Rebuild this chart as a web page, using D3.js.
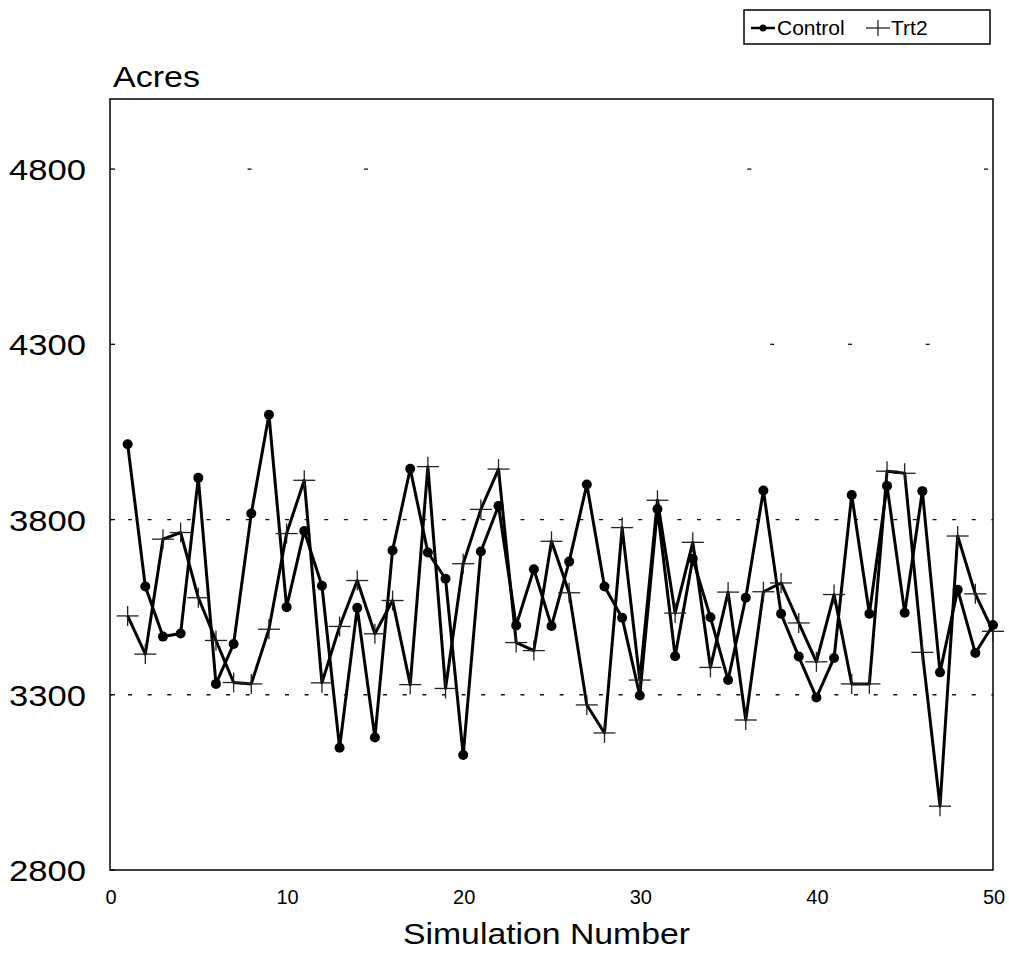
<!DOCTYPE html>
<html>
<head>
<meta charset="utf-8">
<script src="https://cdn.jsdelivr.net/npm/d3@7"></script>
<style>
  html, body { margin: 0; padding: 0; background: #fff; }
  svg { display: block; }
  text { font-family: "Liberation Sans", Arial, Helvetica, sans-serif; fill: #000; }
</style>
</head>
<body>
<svg id="chart" width="1009" height="959"></svg>
<script>
// ---- data ----
const simulations = d3.range(1, 51);
const control = [4015, 3609, 3466, 3475, 3919, 3331, 3445, 3817, 4099, 3550,
                 3767, 3611, 3149, 3548, 3178, 3712, 3945, 3706, 3631, 3128,
                 3709, 3839, 3498, 3658, 3496, 3680, 3900, 3609, 3520, 3298,
                 3830, 3410, 3688, 3521, 3342, 3577, 3883, 3531, 3409, 3292,
                 3405, 3870, 3531, 3896, 3534, 3881, 3364, 3600, 3419, 3499];
const trt2 = [3525, 3416, 3744, 3763, 3577, 3455, 3335, 3331, 3487, 3760,
              3912, 3334, 3495, 3626, 3474, 3569, 3329, 3951, 3318, 3674,
              3829, 3944, 3449, 3426, 3738, 3591, 3271, 3191, 3777, 3342,
              3855, 3533, 3735, 3378, 3593, 3228, 3594, 3619, 3505, 3394,
              3586, 3331, 3331, 3938, 3932, 3421, 2982, 3753, 3588, 3481];
const yTicks = [2800, 3300, 3800, 4300, 4800];
const xTicks = [0, 10, 20, 30, 40, 50];
const gridDense = [3300, 3800];
// faint scan remnants of upper gridlines: level and positions (simulation units)
const gridSparseLevels = [4300, 4800];
const gridSparseAt = [[37.5, 41.9, 46.3], [7.9, 14.5, 36.2, 49.6]];
const seriesNames = ["Control", "Trt2"];

// ---- layout ----
const svg = d3.select("#chart");
const pLeft = 110, pRight = 993, pTop = 99, pBottom = 870;
const x = d3.scaleLinear().domain([0, 50]).range([pLeft, pRight]);
const y = d3.scaleLinear().domain([2800, 5000]).range([pBottom, pTop]);

// dashed gridlines (scan-like)
const period = x(10 / 9) - x(0);
svg.append("g").selectAll("line").data(gridDense).join("line")
  .attr("x1", pLeft).attr("x2", pRight)
  .attr("y1", d => y(d)).attr("y2", d => y(d))
  .attr("stroke", "#111").attr("stroke-width", 1.3)
  .attr("stroke-dasharray", `4,${period - 4}`)
  .attr("stroke-dashoffset", -18);
gridSparseLevels.forEach((lvl, k) => {
  svg.append("g").selectAll("line").data(gridSparseAt[k]).join("line")
    .attr("x1", d => x(d) - 2).attr("x2", d => x(d) + 2)
    .attr("y1", y(lvl)).attr("y2", y(lvl))
    .attr("stroke", "#111").attr("stroke-width", 1.3);
});

// frame
svg.append("rect")
  .attr("x", pLeft).attr("y", pTop)
  .attr("width", pRight - pLeft).attr("height", pBottom - pTop)
  .attr("fill", "none").attr("stroke", "#000").attr("stroke-width", 1.5);

// y axis ticks (inner) + labels
const yAxis = svg.append("g");
yAxis.selectAll("line").data(yTicks).join("line")
  .attr("x1", pLeft).attr("x2", pLeft + 5)
  .attr("y1", d => y(d)).attr("y2", d => y(d))
  .attr("stroke", "#000").attr("stroke-width", 1.3);
yAxis.selectAll("text").data(yTicks).join("text")
  .attr("x", 86).attr("y", d => y(d) + 11)
  .attr("text-anchor", "end")
  .attr("font-size", 30)
  .attr("textLength", 77).attr("lengthAdjust", "spacingAndGlyphs")
  .text(d => d);

// x axis labels
svg.append("g").selectAll("text").data(xTicks).join("text")
  .attr("x", d => x(d) + 1).attr("y", 904)
  .attr("text-anchor", "middle")
  .attr("font-size", 20)
  .text(d => d);

// titles
svg.append("text").attr("x", 113).attr("y", 87)
  .attr("font-size", 30)
  .attr("textLength", 87).attr("lengthAdjust", "spacingAndGlyphs")
  .text("Acres");
svg.append("text").attr("x", 403).attr("y", 944)
  .attr("font-size", 30)
  .attr("textLength", 287).attr("lengthAdjust", "spacingAndGlyphs")
  .text("Simulation Number");

// lines
const line = d3.line().x((d, i) => x(simulations[i])).y(d => y(d));
svg.append("path").datum(trt2).attr("d", line)
  .attr("fill", "none").attr("stroke", "#000").attr("stroke-width", 3)
  .attr("stroke-linejoin", "round");
svg.append("path").datum(control).attr("d", line)
  .attr("fill", "none").attr("stroke", "#000").attr("stroke-width", 3)
  .attr("stroke-linejoin", "round");

// Trt2 cross markers
const crosses = svg.append("g").selectAll("g").data(trt2).join("g")
  .attr("transform", (d, i) => `translate(${x(simulations[i])},${y(d)})`);
crosses.append("line").attr("x1", -11).attr("x2", 11).attr("y1", 0).attr("y2", 0)
  .attr("stroke", "#222").attr("stroke-width", 1.3);
crosses.append("line").attr("x1", 0).attr("x2", 0).attr("y1", -10).attr("y2", 10)
  .attr("stroke", "#222").attr("stroke-width", 1.3);

// Control dot markers
svg.append("g").selectAll("circle").data(control).join("circle")
  .attr("cx", (d, i) => x(simulations[i])).attr("cy", d => y(d))
  .attr("r", 5).attr("fill", "#000");

// legend
const lg = svg.append("g");
lg.append("rect").attr("x", 744).attr("y", 10).attr("width", 246).attr("height", 34)
  .attr("fill", "#fff").attr("stroke", "#000").attr("stroke-width", 1.5);
lg.append("line").attr("x1", 751).attr("x2", 775).attr("y1", 28).attr("y2", 28)
  .attr("stroke", "#000").attr("stroke-width", 2.5);
lg.append("circle").attr("cx", 763).attr("cy", 28).attr("r", 3.5).attr("fill", "#000");
lg.append("text").attr("x", 777).attr("y", 35).attr("font-size", 21).text(seriesNames[0]);
lg.append("line").attr("x1", 866).attr("x2", 890).attr("y1", 28).attr("y2", 28)
  .attr("stroke", "#222").attr("stroke-width", 1.3);
lg.append("line").attr("x1", 878).attr("x2", 878).attr("y1", 20).attr("y2", 36)
  .attr("stroke", "#222").attr("stroke-width", 1.3);
lg.append("text").attr("x", 891).attr("y", 35).attr("font-size", 21).text(seriesNames[1]);
</script>
</body>
</html>
